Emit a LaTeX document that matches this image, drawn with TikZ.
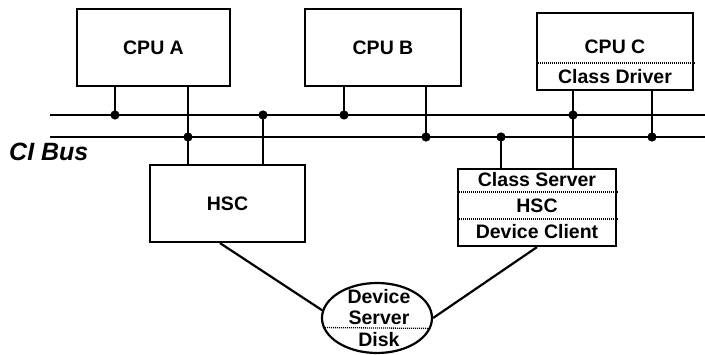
\documentclass[tikz,border=0pt]{standalone}
\usepackage{fontspec}
\setmainfont{Liberation Sans}
\usetikzlibrary{calc,positioning,shapes.geometric}

\begin{document}
\begin{tikzpicture}[x=1pt,y=-1pt,
    box/.style={draw,line width=2.2pt,minimum height=77pt,inner sep=0pt,
        font=\fontsize{19.5}{21}\selectfont\bfseries},
    lbl/.style={inner sep=0pt,font=\fontsize{19.5}{21}\selectfont\bfseries},
    wire/.style={line width=2.2pt},
    sep/.style={line width=1.3pt,dash pattern=on 1pt off 1pt}]
    \useasboundingbox (0,0) rectangle (705,355);
    % processors
    \node[box,minimum width=153pt] (cpuA) at (153.5,47.5) {CPU A};
    \node[box,minimum width=156pt] (cpuB) at (383,47.5) {CPU B};
    \node[box,minimum width=156pt] (cpuC) at (615,51.5) {};
    \node[lbl] (cpuCname) at (615,47) {CPU C};
    \node[lbl] (cdrv) at (615,77) {Class Driver};
    \draw[sep] (cpuC.west |- 0,63) -- (cpuC.east |- 0,63);
    % controllers
    \node[box,minimum width=155pt] (hsc) at (227.5,203.5) {HSC};
    \node[box,minimum width=158pt] (csrv) at (537,207.5) {};
    \node[lbl] (csrvname) at (537,180) {Class Server};
    \node[lbl] (csrvhsc) at (537,206) {HSC};
    \node[lbl] (dcli) at (537,232) {Device Client};
    \foreach \y in {192,219}
        \draw[sep] (csrv.west |- 0,\y) -- (csrv.east |- 0,\y);
    % disk
    \node[draw,ellipse,line width=2.2pt,minimum width=110pt,minimum height=70pt,
        inner sep=0pt] (disk) at (377,318) {};
    \node[lbl] (dev) at (379,297) {Device};
    \node[lbl] (srv) at (379,318) {Server};
    \node[lbl] (dsk) at (379,340) {Disk};
    \draw[sep] (disk.190.7) -- (disk.349.3);
    % bus
    \coordinate (upL) at (50,115);
    \coordinate (upR) at (705,115);
    \coordinate (loL) at (50,137);
    \coordinate (loR) at (705,137);
    \draw[wire] (upL) -- (upR);
    \draw[wire] (loL) -- (loR);
    \node[anchor=west,inner sep=0pt,font=\fontsize{25}{27}\selectfont\bfseries\itshape]
        (bus) at (9,152) {CI Bus};
    % taps
    \coordinate (jA1) at (115,115);
    \coordinate (jA2) at (188,137);
    \coordinate (jH) at (263,115);
    \coordinate (jB1) at (344,115);
    \coordinate (jB2) at (426,137);
    \coordinate (jS) at (501,137);
    \coordinate (jC1) at (573,115);
    \coordinate (jC2) at (652,137);
    \draw[wire] (jA1 |- cpuA.south) -- (jA1);
    \draw[wire] (jA2 |- cpuA.south) -- (jA2 |- hsc.north);
    \draw[wire] (jH) -- (jH |- hsc.north);
    \draw[wire] (jB1 |- cpuB.south) -- (jB1);
    \draw[wire] (jB2 |- cpuB.south) -- (jB2);
    \draw[wire] (jS) -- (jS |- csrv.north);
    \draw[wire] (jC1 |- cpuC.south) -- (jC1 |- csrv.north);
    \draw[wire] (jC2 |- cpuC.south) -- (jC2);
    \foreach \j in {jA1,jA2,jH,jB1,jB2,jS,jC1,jC2}
        \fill (\j) circle (4.6pt);
    % disk links
    \draw[wire] (hsc.south -| 220,0) -- (disk.172);
    \draw[wire] (csrv.south) -- (disk.east);
\end{tikzpicture}
\end{document}
